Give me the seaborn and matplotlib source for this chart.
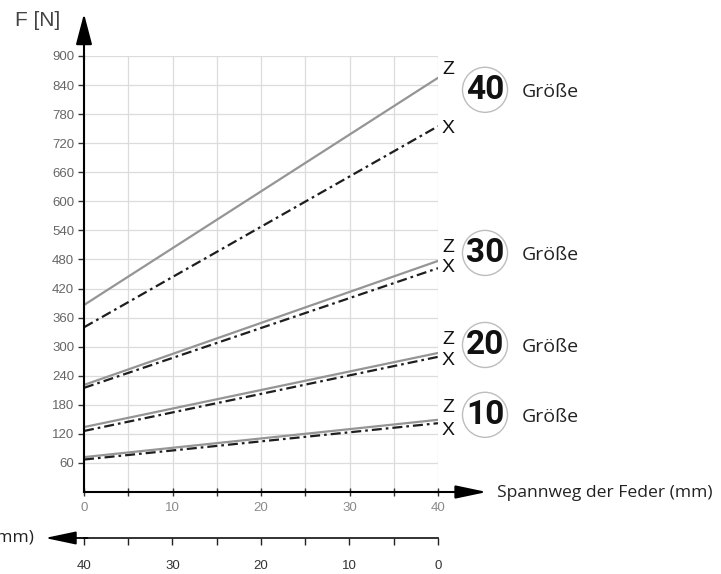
import matplotlib
matplotlib.use("Agg")
import matplotlib.pyplot as plt
import pandas as pd
import seaborn as sns

# spring travel (mm) and force (N) at both ends of each line
weg = [0, 40]
groessen = [40, 30, 20, 10]
kraft_z = {40: [386, 855], 30: [221, 477], 20: [134, 287], 10: [72, 149]}
kraft_x = {40: [340, 755], 30: [215, 462], 20: [126, 279], 10: [67, 142]}

y_ticks = list(range(60, 901, 60))
x_ticks = [0, 10, 20, 30, 40]

rows = []
for g in groessen:
    for w, z, x in zip(weg, kraft_z[g], kraft_x[g]):
        rows.append({"weg": w, "kraft": z, "groesse": g, "typ": "Z"})
        rows.append({"weg": w, "kraft": x, "groesse": g, "typ": "X"})
df = pd.DataFrame(rows)

sns.set_style("white")
plt.rcParams["font.family"] = ["Liberation Sans", "DejaVu Sans"]

W, H = 721, 574
fig = plt.figure(figsize=(W / 100, H / 100), dpi=100)
ax = fig.add_axes([84 / W, (H - 492) / H, (438 - 84) / W, (492 - 56) / H])

sns.lineplot(
    data=df, x="weg", y="kraft", units="groesse", estimator=None,
    hue="typ", palette={"Z": "#959595", "X": "#1e1e1e"},
    style="typ", dashes={"Z": "", "X": (4.5, 1.8, 1.2, 1.8)},
    linewidth=1.6, legend=False, ax=ax,
)

ax.set_xlim(0, 40)
ax.set_ylim(0, 900)
ax.set_xticks(x_ticks)
ax.set_xticks(range(0, 41, 5), minor=True)
ax.set_yticks(y_ticks)
ax.grid(True, which="both", color="#dcdcdc", lw=0.9)
ax.set_axisbelow(True)
ax.set_xlabel("")
ax.set_ylabel("")
for s in ["top", "right"]:
    ax.spines[s].set_visible(False)
for s in ["left", "bottom"]:
    ax.spines[s].set_linewidth(1.5)
    ax.spines[s].set_color("black")
ax.tick_params(axis="y", left=True, direction="out", length=4, width=1,
               pad=3, labelsize=9.5, labelcolor="#666666", color="#333333")
ax.tick_params(axis="x", which="both", bottom=True, direction="inout",
               length=6, width=1, pad=4, labelsize=9.5,
               labelcolor="#8a8a8a", color="#333333")

# axis arrows
ax.annotate("", xy=(0, 1.097), xytext=(0, 0.99), xycoords="axes fraction",
            arrowprops=dict(arrowstyle="-|>,head_length=0.95,head_width=0.25",
                            mutation_scale=20, lw=1.5, color="black",
                            shrinkA=0, shrinkB=0))
ax.annotate("", xy=(1.138, 0), xytext=(0.99, 0), xycoords="axes fraction",
            arrowprops=dict(arrowstyle="-|>,head_length=0.95,head_width=0.2",
                            mutation_scale=20, lw=1.5, color="black",
                            shrinkA=0, shrinkB=0))

fig.text(15 / W, 1 - 21 / H, "F [N]", fontsize=15, color="#444444",
         va="center", ha="left")
fig.text(497 / W, 1 - 493 / H, "Spannweg der Feder (mm)", fontsize=12.6,
         family=["Open Sans", "DejaVu Sans"], color="#222222",
         va="center", ha="left")

# size badges and Z / X labels
badge_dy = {40: -12, 30: 8, 20: 8, 10: 5}
z_dy = {40: 8, 30: 13, 20: 13, 10: 12}
x_dy = {40: -2, 30: 1, 20: -4, 10: -7}
for g in groessen:
    z_end = kraft_z[g][-1]
    x_end = kraft_x[g][-1]
    ax.annotate("Z", xy=(40, z_end), xytext=(10, z_dy[g]),
                textcoords="offset pixels", fontsize=14, ha="center",
                va="center", color="#111111")
    ax.annotate("X", xy=(40, x_end), xytext=(10, x_dy[g]),
                textcoords="offset pixels", fontsize=14, ha="center",
                va="center", color="#111111")
    ax.annotate(str(g), xy=(40, z_end), xytext=(47, badge_dy[g]),
                textcoords="offset pixels", fontsize=24, fontweight="bold",
                ha="center", va="center", color="#111111",
                family=["Roboto", "DejaVu Sans"],
                bbox=dict(boxstyle="circle,pad=0.1", fc="white",
                          ec="#bdbdbd", lw=1))
    ax.annotate("Größe", xy=(40, z_end), xytext=(84, badge_dy[g] - 2),
                textcoords="offset pixels", fontsize=14,
                family=["Open Sans", "DejaVu Sans"], color="#222222",
                ha="left", va="center")

# second scale: remaining travel, reversed
ax2 = fig.add_axes([84 / W, (H - 538) / H, (438 - 84) / W, 0.0001])
ax2.set_xlim(40, 0)
ax2.set_ylim(0, 1)
ax2.set_yticks([])
ax2.set_xticks(x_ticks)
ax2.set_xticks(range(0, 41, 5), minor=True)
for s in ["top", "right", "left"]:
    ax2.spines[s].set_visible(False)
ax2.spines["bottom"].set_linewidth(1.3)
ax2.spines["bottom"].set_color("#222222")
ax2.patch.set_alpha(0)
ax2.tick_params(axis="x", which="both", bottom=True, direction="out",
                length=5, width=1, pad=11, labelsize=9.5,
                labelcolor="#333333", color="#222222")
ax2.annotate("", xy=(-0.11, 0), xytext=(0.01, 0), xycoords="axes fraction",
             arrowprops=dict(arrowstyle="-|>,head_length=0.95,head_width=0.2",
                             mutation_scale=20, lw=1.3, color="black",
                             shrinkA=0, shrinkB=0))
fig.text(34 / W, 1 - 537 / H, "(mm)", fontsize=12.6,
         family=["Open Sans", "DejaVu Sans"], color="#222222",
         va="center", ha="right")

fig.savefig("out.png", dpi=100)
